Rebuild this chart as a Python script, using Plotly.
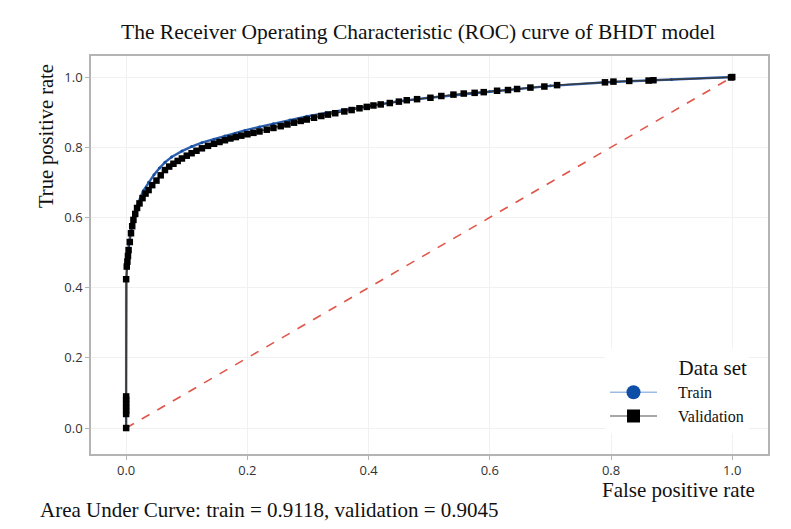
import plotly.graph_objects as go

# Validation ROC points (false positive rate, true positive rate)
val_fpr = [0, 0, 0, 0, 0, 0, 0, 0, 0.001, 0.002, 0.003, 0.004, 0.006, 0.008, 0.010, 0.012,
           0.015, 0.018, 0.022, 0.027, 0.032, 0.037, 0.043, 0.050, 0.057, 0.064, 0.071,
           0.078, 0.085, 0.092, 0.100, 0.108, 0.116, 0.125, 0.135, 0.145, 0.154, 0.163,
           0.172, 0.181, 0.190, 0.200, 0.210, 0.220, 0.232, 0.243, 0.255, 0.266, 0.277,
           0.288, 0.298, 0.310, 0.322, 0.333, 0.345, 0.360, 0.372, 0.385, 0.397, 0.408,
           0.420, 0.435, 0.450, 0.463, 0.480, 0.502, 0.520, 0.540, 0.557, 0.575, 0.590,
           0.612, 0.630, 0.645, 0.667, 0.690, 0.711, 0.790, 0.804, 0.830, 0.862, 0.870,
           0.998, 1.0]
val_tpr = [0, 0.04, 0.05, 0.06, 0.07, 0.08, 0.09, 0.424, 0.46, 0.474, 0.49, 0.507, 0.53,
           0.555, 0.575, 0.593, 0.61, 0.627, 0.64, 0.655, 0.668, 0.678, 0.692, 0.705, 0.72,
           0.735, 0.745, 0.753, 0.761, 0.768, 0.776, 0.783, 0.790, 0.797, 0.804, 0.810,
           0.815, 0.820, 0.825, 0.829, 0.833, 0.837, 0.841, 0.845, 0.850, 0.855, 0.860,
           0.865, 0.870, 0.875, 0.879, 0.884, 0.889, 0.893, 0.897, 0.902, 0.906, 0.911,
           0.915, 0.919, 0.922, 0.926, 0.930, 0.934, 0.937, 0.941, 0.946, 0.950, 0.953,
           0.955, 0.957, 0.961, 0.963, 0.966, 0.970, 0.973, 0.977, 0.985, 0.987, 0.989,
           0.990, 0.991, 0.999, 1.0]

# Train ROC points
train_fpr = [0, 0, 0, 0.002, 0.005, 0.010, 0.015, 0.020, 0.028, 0.037, 0.046, 0.055, 0.064,
             0.075, 0.092, 0.108, 0.125, 0.145, 0.163, 0.180, 0.196, 0.220, 0.243, 0.270,
             0.298, 0.330, 0.360, 0.40, 0.45, 0.50, 0.60, 0.70, 0.80, 0.90, 1.0]
train_tpr = [0, 0.05, 0.42, 0.48, 0.53, 0.58, 0.615, 0.642, 0.675, 0.700, 0.722, 0.741,
             0.757, 0.772, 0.789, 0.802, 0.813, 0.823, 0.832, 0.840, 0.848, 0.858, 0.867,
             0.878, 0.888, 0.898, 0.906, 0.917, 0.931, 0.941, 0.959, 0.975, 0.986, 0.993, 1.0]

# Chance line
ref_x = [0, 1]
ref_y = [0, 1]

tick_vals = [0.0, 0.2, 0.4, 0.6, 0.8, 1.0]
tick_text = ["0.0", "0.2", "0.4", "0.6", "0.8", "1.0"]

series_names = ["Train", "Validation"]
title_text = "The Receiver Operating Characteristic (ROC) curve of BHDT model"
x_title = "False positive rate"
y_title = "True positive rate"
auc_text = "Area Under Curve: train = 0.9118, validation = 0.9045"
legend_title = "Data set"

SERIF = "Liberation Serif, Times New Roman, serif"
SANS = "Open Sans, Noto Sans, sans-serif"
GAP = "\u00a0" * 4

fig = go.Figure()

fig.add_trace(go.Scatter(
    x=ref_x, y=ref_y, mode="lines",
    line=dict(color="#e0564a", width=1.6, dash="dash"),
    showlegend=False, hoverinfo="skip"))

fig.add_trace(go.Scatter(
    x=train_fpr, y=train_tpr, mode="lines+markers",
    line=dict(color="#2d5eab", width=2.4),
    marker=dict(symbol="circle", size=3, color="#0d4ea6"),
    showlegend=False, name=series_names[0]))

fig.add_trace(go.Scatter(
    x=val_fpr, y=val_tpr, mode="lines+markers",
    line=dict(color="#3a3a3a", width=1.4),
    marker=dict(symbol="square", size=6.5, color="#000000"),
    showlegend=False, name=series_names[1]))

# Legend-only entries with larger symbols
fig.add_trace(go.Scatter(
    x=[None], y=[None], mode="lines+markers", name=GAP + series_names[0],
    line=dict(color="#9dbbe0", width=1.5),
    marker=dict(symbol="circle", size=14, color="#0d4ea6")))
fig.add_trace(go.Scatter(
    x=[None], y=[None], mode="lines+markers", name=GAP + series_names[1],
    line=dict(color="#8a8a8a", width=1.5),
    marker=dict(symbol="square", size=13, color="#000000")))

W, H = 791, 529
L, R, T, B = 91, 23, 56, 75
pw, ph = W - L - R, H - T - B

def px_to_paper(xp, yp):
    return (xp - L) / pw, (H - B - yp) / ph

annotations = []
tx, ty = px_to_paper(418, 32)
annotations.append(dict(text=title_text, x=tx, y=ty, xref="paper", yref="paper",
                        xanchor="center", yanchor="middle", showarrow=False,
                        font=dict(family=SERIF, size=21.5, color="#111111")))
ax_, ay_ = px_to_paper(46, 136)
annotations.append(dict(text=y_title, x=ax_, y=ay_, xref="paper", yref="paper",
                        xanchor="center", yanchor="middle", showarrow=False, textangle=-90,
                        font=dict(family=SERIF, size=20.5, color="#111111")))
bx, by = px_to_paper(678, 490)
annotations.append(dict(text=x_title, x=bx, y=by, xref="paper", yref="paper",
                        xanchor="center", yanchor="middle", showarrow=False,
                        font=dict(family=SERIF, size=21, color="#111111")))
cx, cy = px_to_paper(38, 510)
annotations.append(dict(text=auc_text, x=cx, y=cy, xref="paper", yref="paper",
                        xanchor="left", yanchor="middle", showarrow=False,
                        font=dict(family=SERIF, size=21, color="#111111")))

lx, ly = px_to_paper(605, 348)

fig.update_layout(
    width=W, height=H,
    margin=dict(l=L, r=R, t=T, b=B, pad=0),
    paper_bgcolor="white", plot_bgcolor="white",
    annotations=annotations,
    legend=dict(
        x=lx, y=ly, xanchor="left", yanchor="top",
        bgcolor="rgba(255,255,255,0.9)", borderwidth=0,
        title=dict(text=legend_title, side="top right",
                   font=dict(family=SERIF, size=21, color="#111111")),
        font=dict(family=SERIF, size=16, color="#111111"),
        itemwidth=47, tracegroupgap=2),
    xaxis=dict(
        range=[-0.058, 1.059], tickvals=tick_vals, ticktext=tick_text,
        showgrid=True, gridcolor="#f1f1f1", gridwidth=1, zeroline=False,
        showline=True, linecolor="#b4b4b4", linewidth=1.5, mirror=True,
        ticks="outside", ticklen=4, tickcolor="#b4b4b4",
        tickfont=dict(family=SANS, size=13, color="#333333")),
    yaxis=dict(
        range=[-0.074, 1.06], tickvals=tick_vals, ticktext=tick_text,
        showgrid=True, gridcolor="#f1f1f1", gridwidth=1, zeroline=False,
        showline=True, linecolor="#b4b4b4", linewidth=1.5, mirror=True,
        ticks="outside", ticklen=4, tickcolor="#b4b4b4",
        tickfont=dict(family=SANS, size=13, color="#333333")),
)

fig.write_html("out.html")
